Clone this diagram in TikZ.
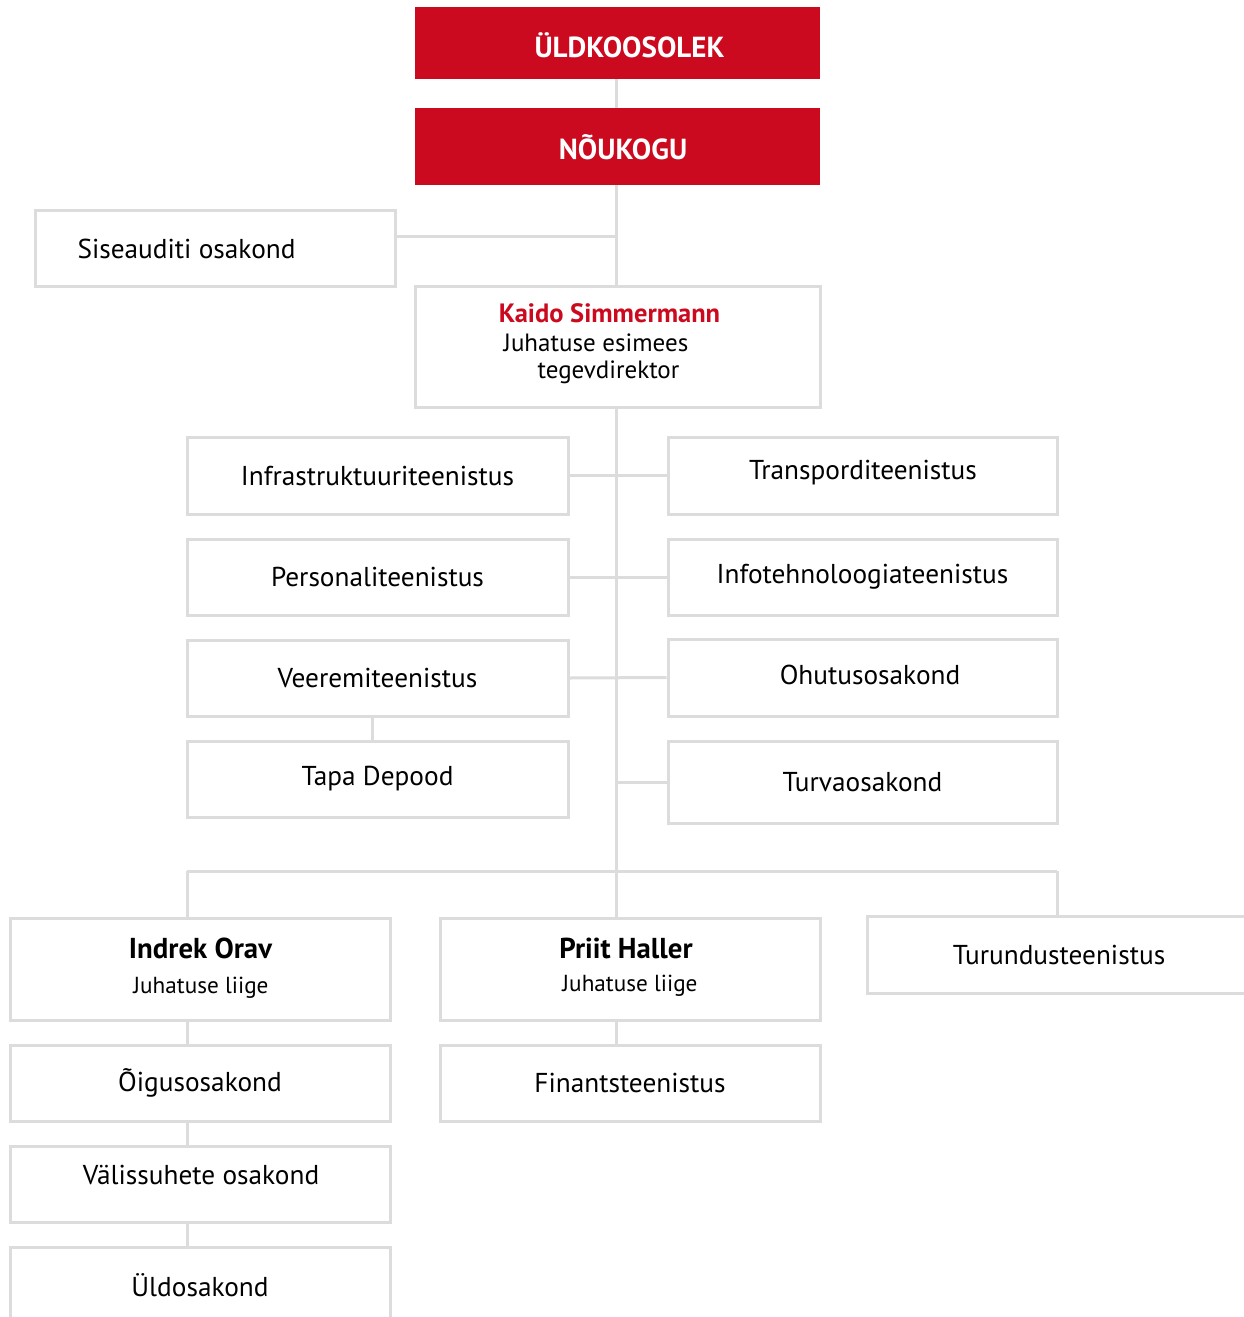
\documentclass[tikz,border=0pt]{standalone}
\usepackage{fontspec}
\setmainfont{PT Sans}
\definecolor{brandred}{HTML}{CC0A1F}
\definecolor{linegray}{HTML}{DCDCDC}
\tikzset{
  box/.style={draw=linegray, line width=3pt, fill=white, inner sep=0pt, font=\fontsize{27.3}{32}\selectfont},
  redbox/.style={fill=brandred, inner sep=0pt, text=white, font=\fontsize{29}{34}\selectfont\bfseries},
  conn/.style={draw=linegray, line width=3pt},
  txt/.style={inner sep=0pt, anchor=center, font=\fontsize{27.3}{32}\selectfont},
  nametxt/.style={inner sep=0pt, anchor=center, font=\fontsize{28.8}{34}\selectfont\bfseries},
  roletxt/.style={inner sep=0pt, anchor=center, font=\fontsize{23.2}{28}\selectfont},
}
\begin{document}
\begin{tikzpicture}[x=1pt,y=-1pt]
\useasboundingbox (0,0) rectangle (1244,1317);
\clip (0,0) rectangle (1244,1317);
% coordinates for connector junctions
\coordinate (j1) at (616,236);
\coordinate (t1) at (616,871);
\coordinate (b1) at (187,871);
\coordinate (b3) at (1057,871);
\node[redbox, minimum width=405pt, minimum height=72pt] (uld) at (617.5,43) {};
\node[inner sep=0pt, text=white, font=\fontsize{29}{34}\selectfont\bfseries] (uldt) at (629.5,45) {ÜLDKOOSOLEK};
\node[redbox, minimum width=405pt, minimum height=77pt] (nou) at (617.5,146.5) {};
\node[inner sep=0pt, text=white, font=\fontsize{29}{34}\selectfont\bfseries] (nout) at (623,147) {NÕUKOGU};
\node[box, minimum width=360pt, minimum height=76pt] (sise) at (215,248) {};
\node[txt] (siset) at (186.5,249) {Siseauditi osakond};
\node[box, minimum width=405pt, minimum height=121pt] (kaido) at (617.5,346.5) {};
\node[inner sep=0pt, text=brandred, font=\fontsize{26.5}{31}\selectfont\bfseries] (kname) at (609.5,313) {Kaido Simmermann};
\node[inner sep=0pt, font=\fontsize{25}{30}\selectfont] (krole1) at (596,343) {Juhatuse esimees};
\node[inner sep=0pt, font=\fontsize{25}{30}\selectfont] (krole2) at (608.5,372) {tegevdirektor};

\node[box, minimum width=381pt, minimum height=77pt] (infra) at (377.5,475.5) {Infrastruktuuriteenistus};
\node[box, minimum width=381pt, minimum height=76pt] (pers) at (377.5,577) {Personaliteenistus};
\node[box, minimum width=381pt, minimum height=76pt] (veer) at (377.5,678) {Veeremiteenistus};
\node[box, minimum width=381pt, minimum height=76pt] (tapa) at (377.5,779) {Tapa Depood};

\node[box, minimum width=389pt, minimum height=77pt] (transp) at (862.5,475.5) {};
\node[txt] (transpt) at (863,473) {Transporditeenistus};
\node[box, minimum width=389pt, minimum height=76pt] (info) at (862.5,577) {Infotehnoloogiateenistus};
\node[box, minimum width=389pt, minimum height=77pt] (ohut) at (862.5,677.5) {};
\node[txt] (ohutt) at (870,675) {Ohutusosakond};
\node[box, minimum width=389pt, minimum height=82pt] (turva) at (862.5,782) {Turvaosakond};

\node[box, minimum width=380pt, minimum height=102pt] (indrek) at (200,969) {};
\node[nametxt] (iname) at (200.5,948) {Indrek Orav};
\node[roletxt] (irole) at (201,988) {Juhatuse liige};

\node[box, minimum width=380pt, minimum height=102pt] (priit) at (630,969) {};
\node[nametxt] (pname) at (626,948) {Priit Haller};
\node[roletxt] (prole) at (630,986) {Juhatuse liige};

\node[box, minimum width=384pt, minimum height=77pt] (turund) at (1059,954.5) {Turundusteenistus};

\node[box, minimum width=380pt, minimum height=76pt] (oigus) at (200,1083) {Õigusosakond};
\node[box, minimum width=380pt, minimum height=76pt] (valis) at (200,1184) {};
\node[txt] (valist) at (201,1175) {Välissuhete osakond};
\node[box, minimum width=380pt, minimum height=76pt] (uldo) at (200,1285) {Üldosakond};

\node[box, minimum width=380pt, minimum height=76pt] (fin) at (630,1083) {Finantsteenistus};

% connectors
\draw[conn] (uld.south -| j1) -- (nou.north -| j1);
\draw[conn] (nou.south -| j1) -- (kaido.north -| j1);
\draw[conn] (sise.east |- j1) -- (j1);
\draw[conn] (kaido.south -| t1) -- (t1);
\draw[conn] (infra.east) -- (transp.west);
\draw[conn] (pers.east) -- (info.west);
\draw[conn] (veer.east) -- (ohut.west);
\draw[conn] (turva.west -| t1) -- (turva.west);
\draw[conn] ([xshift=-5.5pt]veer.south) -- ([xshift=-5.5pt]tapa.north);
\draw[conn] (b1) -- (b3);
\draw[conn] (b1) -- (b1 |- indrek.north);
\draw[conn] (t1) -- (t1 |- priit.north);
\draw[conn] (b3) -- (b3 |- turund.north);
\draw[conn] (b1 |- indrek.south) -- (b1 |- oigus.north);
\draw[conn] (b1 |- oigus.south) -- (b1 |- valis.north);
\draw[conn] (b1 |- valis.south) -- (b1 |- uldo.north);
\draw[conn] (t1 |- priit.south) -- (t1 |- fin.north);
\end{tikzpicture}
\end{document}
